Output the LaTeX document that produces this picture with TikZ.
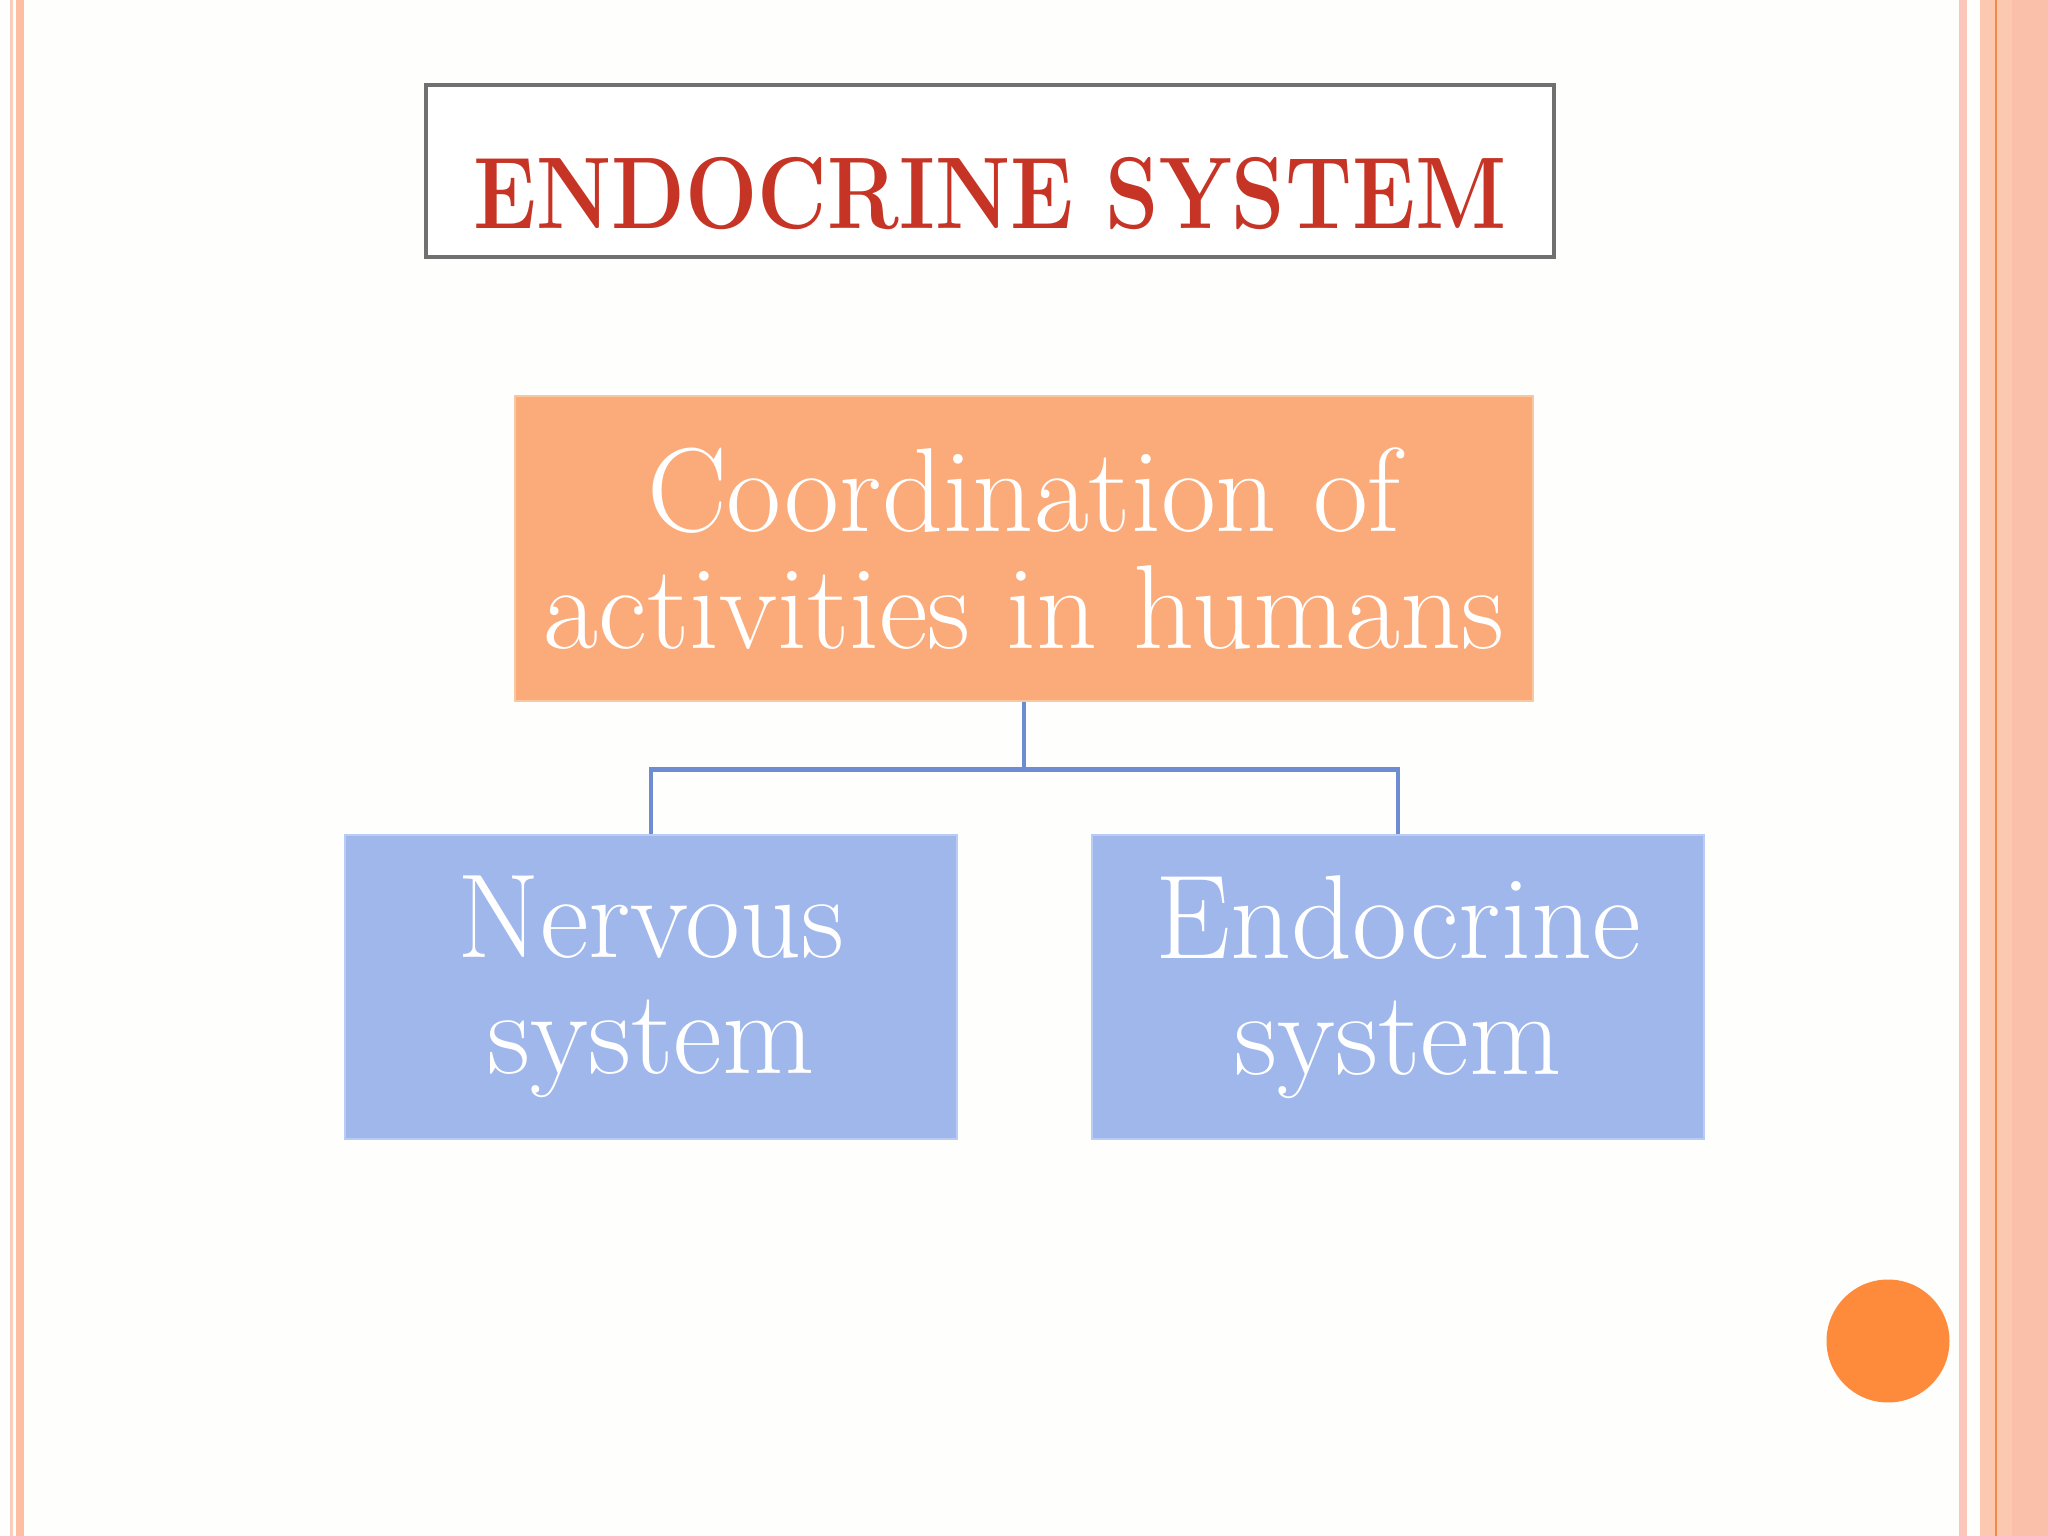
\documentclass[tikz,border=0pt]{standalone}
\usepackage{fontspec}
\usepackage{tikz}
\usetikzlibrary{positioning}
\definecolor{slidebg}{RGB}{254,254,252}
\definecolor{titlered}{RGB}{198,52,38}
\definecolor{framegray}{RGB}{112,112,112}
\definecolor{orangefill}{RGB}{251,170,121}
\definecolor{orangeedge}{RGB}{250,200,160}
\definecolor{bluefill}{RGB}{160,183,235}
\definecolor{blueedge}{RGB}{184,204,245}
\definecolor{linkblue}{RGB}{110,140,210}
\definecolor{dotorange}{RGB}{254,138,59}
\definecolor{stripepale}{RGB}{250,204,190}
\definecolor{stripesalmon}{RGB}{253,190,162}
\definecolor{sidepink}{RGB}{252,198,186}
\definecolor{sidesalmon}{RGB}{253,200,176}
\definecolor{sidedark}{RGB}{251,192,170}
\definecolor{sideline}{RGB}{240,138,74}

\begin{document}
\begin{tikzpicture}[
    topbox/.style={rectangle, fill=orangefill, draw=orangeedge, line width=0.8pt,
        minimum width=10.18cm, minimum height=3.05cm, inner sep=0pt,
        text=white, align=center, font=\fontsize{34}{33.5}\selectfont},
    sysbox/.style={rectangle, fill=bluefill, draw=blueedge, line width=0.8pt,
        minimum width=6.12cm, minimum height=3.04cm, inner sep=0pt,
        text=white, align=center, font=\fontsize{34}{33}\selectfont},
    link/.style={draw=linkblue, line width=1.2pt}
]
    % slide background and side stripes
    \useasboundingbox (0,0) rectangle (20.48,-15.36);
    \fill[slidebg] (0,0) rectangle (20.48,-15.36);
    \fill[stripepale] (0.10,0) rectangle (0.13,-15.36);
    \fill[stripesalmon] (0.16,0) rectangle (0.24,-15.36);
    \fill[sidepink] (19.59,0) rectangle (19.67,-15.36);
    \fill[sidesalmon] (19.80,0) rectangle (20.48,-15.36);
    \fill[sidedark] (20.12,0) rectangle (20.48,-15.36);
    \draw[sideline, line width=0.6pt] (19.96,0) -- (19.96,-15.36);

    % Title
    \node[draw=framegray, line width=1.3pt, fill=white, inner sep=0pt,
        minimum width=11.28cm, text height=1.44cm, text depth=0.28cm,
        text=titlered, font=\fontsize{29}{30}\selectfont\bfseries]
        (title) at (9.90,-1.71) {\scalebox{0.84}[1]{ENDOCRINE SYSTEM}};

    % Hierarchy
    \node[topbox] (coord) at (10.24,-5.485) {Coordination of\\activities in humans};
    \node[sysbox] (nerv) at (6.51,-9.87) {Nervous\\system};
    \node[sysbox] (endo) at (13.98,-9.87) {Endocrine\\system};

    \draw[link] (coord.south) -- ++(0,-0.67) coordinate (hub) -| (nerv.north);
    \draw[link] (hub) -| (endo.north);

    % corner dot
    \node[circle, fill=dotorange, minimum size=1.23cm, inner sep=0pt] (dot) at (18.88,-13.41) {};
\end{tikzpicture}
\end{document}
